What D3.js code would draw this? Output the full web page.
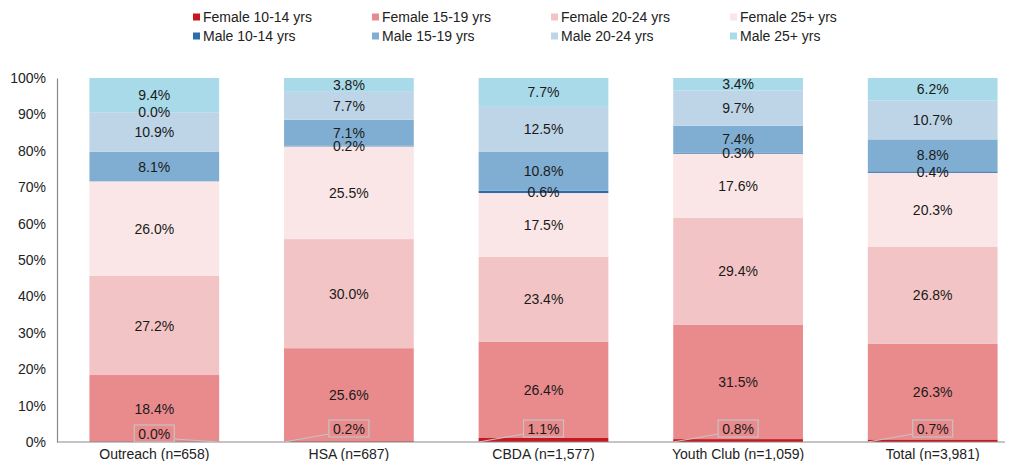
<!DOCTYPE html>
<html>
<head>
<meta charset="utf-8">
<script src="https://cdn.jsdelivr.net/npm/d3@7"></script>
<style>
  html, body { margin: 0; padding: 0; background: #fff; }
  svg { display: block; font-family: "Liberation Sans", Arial, Helvetica, sans-serif; }
</style>
</head>
<body>
<svg id="chart" width="1015" height="461"></svg>
<script>
// Sites (with sample sizes) shown along the x axis
const categories = ["Outreach (n=658)", "HSA (n=687)", "CBDA (n=1,577)", "Youth Club (n=1,059)", "Total (n=3,981)"];

// Series, bottom of the stack first
const seriesNames = [
  "Female 10-14 yrs", "Female 15-19 yrs", "Female 20-24 yrs", "Female 25+ yrs",
  "Male 10-14 yrs", "Male 15-19 yrs", "Male 20-24 yrs", "Male 25+ yrs"
];

// Percent of clients per site, one array per series (same order as categories)
const female1014 = [0.0, 0.2, 1.1, 0.8, 0.7];
const female1519 = [18.4, 25.6, 26.4, 31.5, 26.3];
const female2024 = [27.2, 30.0, 23.4, 29.4, 26.8];
const female25p  = [26.0, 25.5, 17.5, 17.6, 20.3];
const male1014   = [0.0, 0.2, 0.6, 0.3, 0.4];
const male1519   = [8.1, 7.1, 10.8, 7.4, 8.8];
const male2024   = [10.9, 7.7, 12.5, 9.7, 10.7];
const male25p    = [9.4, 3.8, 7.7, 3.4, 6.2];

const seriesValues = [female1014, female1519, female2024, female25p, male1014, male1519, male2024, male25p];

const yTicks = [0, 10, 20, 30, 40, 50, 60, 70, 80, 90, 100];

const colors = ["#C8171E", "#E98A8D", "#F3C4C5", "#FBE6E7", "#2B6DAD", "#80AED2", "#BED5E8", "#A9DAE9"];

// Rows for d3.stack
const rows = categories.map((c, i) => {
  const r = { category: c };
  seriesNames.forEach((s, j) => { r[s] = seriesValues[j][i]; });
  return r;
});

const svg = d3.select("#chart");
const font = "\"Liberation Sans\", Arial, Helvetica, sans-serif";

const x = d3.scaleBand()
  .domain(categories)
  .range([57, 1030])
  .paddingInner(1 / 3)
  .paddingOuter(1 / 6);

const y = d3.scaleLinear().domain([0, 1]).range([442, 78]);

const stack = d3.stack().keys(seriesNames).offset(d3.stackOffsetExpand);
const stacked = stack(rows);

// Stacked segments
const layers = svg.append("g").selectAll("g")
  .data(stacked)
  .join("g")
  .attr("fill", (d, i) => colors[i]);

layers.selectAll("rect")
  .data(d => d.map(p => ({ p, key: d.key })))
  .join("rect")
  .attr("x", d => x(d.p.data.category))
  .attr("width", x.bandwidth())
  .attr("y", d => y(d.p[1]))
  .attr("height", d => Math.max(0, y(d.p[0]) - y(d.p[1])));

// Axes
const yAxis = d3.axisLeft(y)
  .tickValues(yTicks.map(t => t / 100))
  .tickFormat(d => Math.round(d * 100) + "%")
  .tickSize(0)
  .tickPadding(11);

const gy = svg.append("g").attr("transform", "translate(57,0)").call(yAxis);
gy.select(".domain").attr("stroke", "#8a8a8a").attr("stroke-width", 1.2);
gy.selectAll("text").attr("font-size", 14).attr("font-family", font).attr("fill", "#222");

const xAxis = d3.axisBottom(x).tickSize(0).tickPadding(0);
const gx = svg.append("g").attr("transform", "translate(0,442)").call(xAxis);
gx.select(".domain").remove();
gx.append("line")
  .attr("x1", 57).attr("x2", 1005).attr("y1", 0).attr("y2", 0)
  .attr("stroke", "#8a8a8a").attr("stroke-width", 1.2);
gx.selectAll(".tick text")
  .attr("font-size", 14).attr("font-family", font).attr("fill", "#222")
  .attr("dy", null).attr("y", 17);

// Value labels, centred in their segments
const labelFmt = v => v.toFixed(1) + "%";
const labels = svg.append("g")
  .attr("font-size", 14).attr("font-family", font).attr("fill", "#1a1a1a")
  .attr("text-anchor", "middle");

stacked.forEach((layer, si) => {
  if (si === 0) return; // youngest female group uses callouts below
  layer.forEach((p, ci) => {
    const v = seriesValues[si][ci];
    let yy = (y(p[0]) + y(p[1])) / 2;
    // an empty male 10-14 segment has its label lifted to the top of the 20-24 segment
    if (si === 4 && v === 0) yy = y(stacked[6][ci][1]);
    labels.append("text")
      .attr("x", x(p.data.category) + x.bandwidth() / 2)
      .attr("y", yy)
      .attr("dy", "0.36em")
      .text(labelFmt(v));
  });
});

// Callout labels for Female 10-14 yrs
const callouts = svg.append("g");
stacked[0].forEach((p, ci) => {
  const v = seriesValues[0][ci];
  const x0 = x(p.data.category);
  const cx = x0 + x.bandwidth() / 2;
  const w = 40, h = 17;
  const cy = v === 0 ? 433.5 : 428.5;
  const bx = cx - w / 2, by = cy - h / 2;
  const toRight = v === 0;
  callouts.append("line")
    .attr("x1", toRight ? bx + w : bx)
    .attr("y1", by + h - 3)
    .attr("x2", toRight ? x0 + x.bandwidth() : x0)
    .attr("y2", y(0))
    .attr("stroke", "#c4c4c4").attr("stroke-width", 1.2);
  callouts.append("rect")
    .attr("x", bx).attr("y", by).attr("width", w).attr("height", h)
    .attr("fill", "none").attr("stroke", "#c4c4c4").attr("stroke-width", 1.2);
  callouts.append("text")
    .attr("x", cx).attr("y", cy).attr("dy", "0.36em")
    .attr("text-anchor", "middle")
    .attr("font-size", 14).attr("font-family", font).attr("fill", "#1a1a1a")
    .text(labelFmt(v));
});

// Legend: females on the first row, males on the second
const legend = svg.append("g").attr("font-size", 14).attr("font-family", font).attr("fill", "#222");
seriesNames.forEach((s, i) => {
  const row = i < 4 ? 0 : 1;
  const col = i % 4;
  const g = legend.append("g").attr("transform", `translate(${193 + col * 179},${17 + row * 19})`);
  g.append("rect").attr("x", 0).attr("y", -3.5).attr("width", 7).attr("height", 7).attr("fill", colors[i]);
  g.append("text").attr("x", 10).attr("y", 0).attr("dy", "0.36em").text(s);
});
</script>
</body>
</html>
